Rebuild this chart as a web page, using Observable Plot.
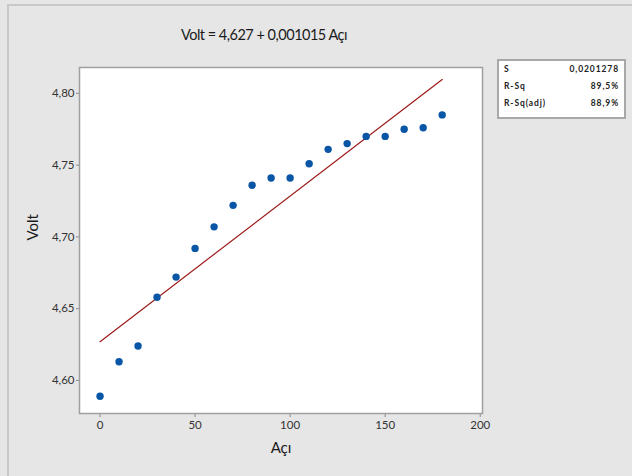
<!DOCTYPE html>
<html>
<head>
<meta charset="utf-8">
<script src="https://cdn.jsdelivr.net/npm/d3@7"></script>
<script src="https://cdn.jsdelivr.net/npm/@observablehq/plot@0.6"></script>
<style>
  html, body { margin: 0; padding: 0; background: #e6e6e6; }
  #wrap { position: relative; width: 632px; height: 476px; background: #e6e6e6; overflow: hidden; font-family: "Lato", "Open Sans", sans-serif; }
  #border { position: absolute; left: 7px; top: 4px; width: 640px; height: 480px; border-left: 2px solid #c8c8c8; border-top: 2px solid #c8c8c8; box-sizing: border-box; }
  #chart { position: absolute; left: 0; top: 0; }
  #title { position: absolute; left: 62px; width: 404px; top: 26px; text-align: center; font-size: 14.5px; letter-spacing: -0.5px; color: #1a1a1a; }
  #stats { position: absolute; left: 497px; top: 59px; width: 129px; height: 60px; background: #fff; border: 2px solid #a8a8a8; box-sizing: border-box; font-size: 8.5px; font-weight: bold; letter-spacing: 0.9px; color: #222; }
  #stats .row { position: absolute; left: 5px; right: 5px; height: 10px; }
  #stats .row span:last-child { position: absolute; right: 0; }
</style>
</head>
<body>
<div id="wrap">
  <div id="border"></div>
  <div id="chart"></div>
  <div id="title"></div>
  <div id="stats"></div>
</div>
<script>
// Data
const aci = [0, 10, 20, 30, 40, 50, 60, 70, 80, 90, 100, 110, 120, 130, 140, 150, 160, 170, 180];
const volt = [4.589, 4.613, 4.624, 4.658, 4.672, 4.692, 4.707, 4.722, 4.736, 4.741, 4.741, 4.751, 4.761, 4.765, 4.770, 4.770, 4.775, 4.776, 4.785];
const intercept = 4.627;
const slope = 0.001015;
const xTicks = [0, 50, 100, 150, 200];
const yTicks = [4.60, 4.65, 4.70, 4.75, 4.80];
const titleText = "Volt = 4,627 + 0,001015 Açı";
const statLabels = ["S", "R-Sq", "R-Sq(adj)"];
const statValues = ["0,0201278", "89,5%", "88,9%"];

const points = aci.map((a, i) => ({aci: a, volt: volt[i]}));
const fitX = [aci[0], aci[aci.length - 1]];
const fit = fitX.map(a => ({aci: a, volt: intercept + slope * a}));
const comma = d => d3.format(".2f")(d).replace(".", ",");

const plot = Plot.plot({
  width: 632,
  height: 476,
  marginLeft: 79,
  marginRight: 150,
  marginTop: 67,
  marginBottom: 63,
  style: { background: "transparent", fontFamily: "Lato, 'Open Sans', sans-serif", overflow: "visible" },
  x: { domain: [-10.8, 201.2] },
  y: { domain: [4.577, 4.818] },
  marks: [
    Plot.frame({ fill: "white", stroke: "none" }),
    Plot.axisX({ ticks: xTicks, tickSize: 4, tickPadding: 3, fontSize: 11.5, color: "#333", stroke: "#888", label: null }),
    Plot.axisY({ ticks: yTicks, tickSize: 3, tickPadding: 2, fontSize: 11.5, color: "#333", stroke: "#888", tickFormat: comma, label: null }),
    Plot.frame({ stroke: "#a0a0a0", strokeWidth: 1.5 }),
    Plot.line(fit, { x: "aci", y: "volt", stroke: "#9e1b1b", strokeWidth: 1.2 }),
    Plot.dot(points, { x: "aci", y: "volt", r: 3.7, fill: "#0a56a6", stroke: "none" }),
    Plot.text(["Açı"], { frameAnchor: "bottom", dy: 39, fontSize: 15, fill: "#1a1a1a" }),
    Plot.text(["Volt"], { frameAnchor: "left", dx: -46, rotate: -90, fontSize: 15, fill: "#1a1a1a" })
  ]
});
document.getElementById("chart").appendChild(plot);
document.getElementById("title").textContent = titleText;

const stats = document.getElementById("stats");
statLabels.forEach((lab, i) => {
  const row = document.createElement("div");
  row.className = "row";
  row.style.top = (3 + i * 17) + "px";
  const a = document.createElement("span"); a.textContent = lab;
  const b = document.createElement("span"); b.textContent = statValues[i];
  row.appendChild(a); row.appendChild(b);
  stats.appendChild(row);
});
</script>
</body>
</html>
